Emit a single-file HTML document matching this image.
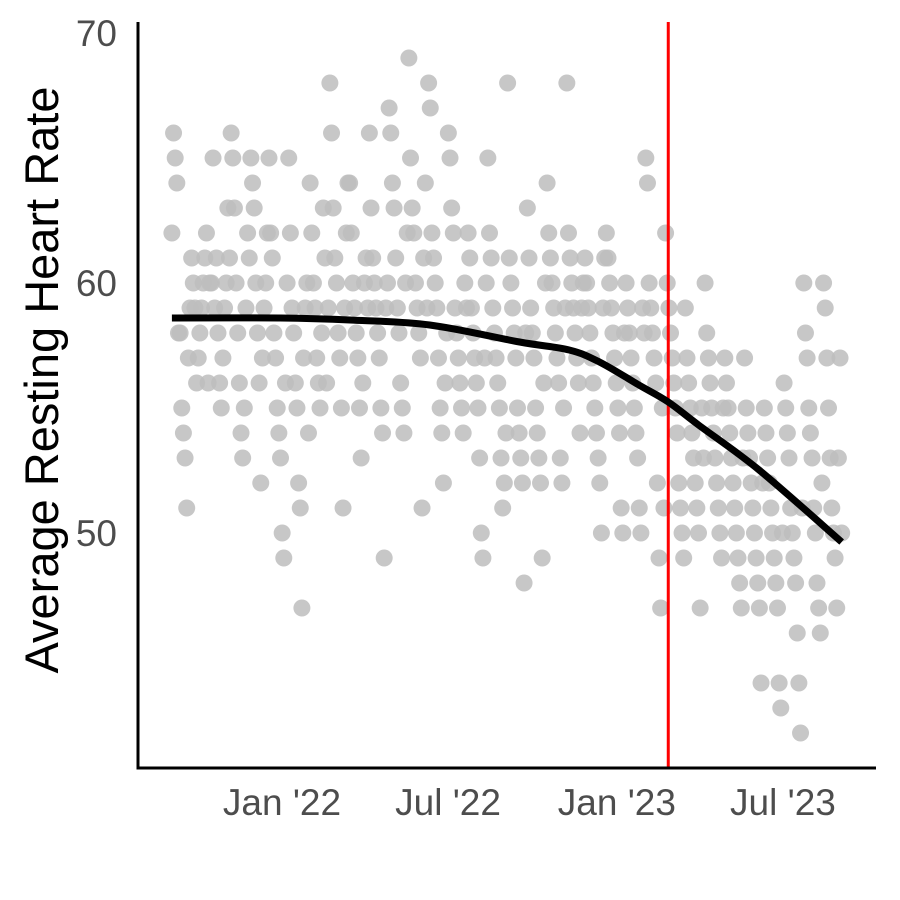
<!DOCTYPE html>
<html><head><meta charset="utf-8">
<style>
html,body{margin:0;padding:0;background:#fff;}
svg{display:block;font-family:"Liberation Sans",Arial,sans-serif;}
</style></head>
<body>
<svg id="chart" width="900" height="900" viewBox="0 0 900 900">
<g id="points"></g>
<g id="lines"></g>
<g id="axes"></g>
</svg>
<script>
// Days since 2022-01-01 for first reading and spacing
const startDay = -120;
const endDay = 610;
// Daily average resting heart rate readings (in chronological bands)
const heartRates = [
62,66,65,64,58,58,55,54,53,51,57,59,
61,60,59,56,57,58,59,60,61,62,56,60,
60,65,59,61,58,56,55,57,59,60,63,61,
66,65,63,60,58,56,54,53,55,59,62,61,
65,64,63,60,58,56,52,57,59,60,62,65,
62,61,58,57,55,54,53,50,49,56,60,65,
62,59,58,56,55,52,51,47,57,59,60,54,
64,62,60,59,57,56,55,58,63,61,56,59,
68,66,63,61,60,58,57,55,51,59,62,64,
64,62,60,59,58,57,55,53,56,60,61,59,
66,63,61,60,59,58,57,55,54,49,59,60,
67,66,64,63,61,59,58,56,55,54,60,62,
69,65,63,62,60,59,58,57,51,61,64,59,
68,67,62,61,60,59,57,55,54,52,56,58,
66,65,63,62,59,58,57,56,55,54,60,59,
62,61,59,58,57,56,55,53,50,49,57,60,
65,62,61,59,58,57,56,55,53,51,52,54,
68,61,60,59,58,57,55,54,53,52,48,58,
63,61,59,58,57,55,54,53,52,49,56,60,
64,62,61,60,59,58,57,56,53,52,55,59,
68,62,61,60,59,58,57,56,54,59,60,61,
60,59,58,57,56,55,54,53,52,50,59,61,
62,61,60,59,58,57,56,55,54,51,50,58,
60,59,58,57,56,55,54,53,51,50,59,58,
65,64,60,59,58,57,56,52,49,47,55,51,
62,60,59,58,57,56,55,54,52,51,50,49,
59,57,56,55,54,53,52,51,50,47,55,53,
60,58,57,56,55,54,53,52,51,50,49,55,
57,56,55,54,53,52,51,50,49,48,47,53,
57,55,54,53,52,51,50,49,48,47,44,52,
55,54,53,52,51,50,49,48,47,44,43,50,
56,55,54,53,51,50,49,48,46,44,42,51,
60,58,57,55,54,53,51,50,48,47,46,52,
60,59,57,55,53,51,50,49,47,53,57,50
];
// Smoothed trend
const trendDays = [-120,-2,74,161,259,313,346,389,421,454,520,610];
const trendValues = [58.6,58.6,58.52,58.32,57.64,57.32,56.84,55.92,55.24,54.32,52.52,49.64];
const eventDay = 421;
const yTicks = [50,60,70];
const xTickDays = [0,181,365,546];
const xTickLabels = ["Jan '22","Jul '22","Jan '23","Jul '23"];

const NS="http://www.w3.org/2000/svg";
function xs(d){return 282 + d*0.9175;}
function ys(v){return 33 + (70-v)*25;}
function mk(tag,attrs,parent){const e=document.createElementNS(NS,tag);for(const k in attrs)e.setAttribute(k,attrs[k]);parent.appendChild(e);return e;}

const gp=document.getElementById('points');
const step=(endDay-startDay)/(heartRates.length-1);
heartRates.forEach((v,i)=>{
  const c=mk('circle',{cx:xs(startDay+i*step),cy:ys(v),r:8.5,fill:'#bdbdbd','fill-opacity':0.85},gp);
  
  
});

const gl=document.getElementById('lines');
const red=mk('line',{x1:xs(eventDay),x2:xs(eventDay),y1:22,y2:768,stroke:'#ff0000','stroke-width':3},gl);


const pts=trendDays.map((d,i)=>[xs(d),ys(trendValues[i])]);
let dstr=`M${pts[0][0]},${pts[0][1]}`;
for(let i=0;i<pts.length-1;i++){
  const p0=pts[Math.max(0,i-1)],p1=pts[i],p2=pts[i+1],p3=pts[Math.min(pts.length-1,i+2)];
  const c1=[p1[0]+(p2[0]-p0[0])/6,p1[1]+(p2[1]-p0[1])/6];
  const c2=[p2[0]-(p3[0]-p1[0])/6,p2[1]-(p3[1]-p1[1])/6];
  dstr+=` C${c1[0]},${c1[1]} ${c2[0]},${c2[1]} ${p2[0]},${p2[1]}`;
}
const tr=mk('path',{d:dstr,fill:'none',stroke:'#000','stroke-width':7,'stroke-linecap':'butt'},gl);



const ga=document.getElementById('axes');
const ya=mk('line',{x1:138,x2:138,y1:22,y2:769.5,stroke:'#000','stroke-width':3},ga);


const xa=mk('line',{x1:136.5,x2:876,y1:768,y2:768,stroke:'#000','stroke-width':3},ga);


yTicks.forEach(t=>{
  const e=mk('text',{x:117,y:ys(t)+13,'text-anchor':'end','font-size':37,fill:'#4d4d4d'},ga);
  e.textContent=t;
  
  
});
xTickDays.forEach((d,i)=>{
  const e=mk('text',{x:xs(d),y:815,'text-anchor':'middle','font-size':37,fill:'#4d4d4d'},ga);
  e.textContent=xTickLabels[i];
  
  
});
const yt=mk('text',{x:0,y:0,transform:'translate(58,380) rotate(-90)','text-anchor':'middle','font-size':47,fill:'#000'},ga);
yt.textContent='Average Resting Heart Rate';


</script>
</body></html>
